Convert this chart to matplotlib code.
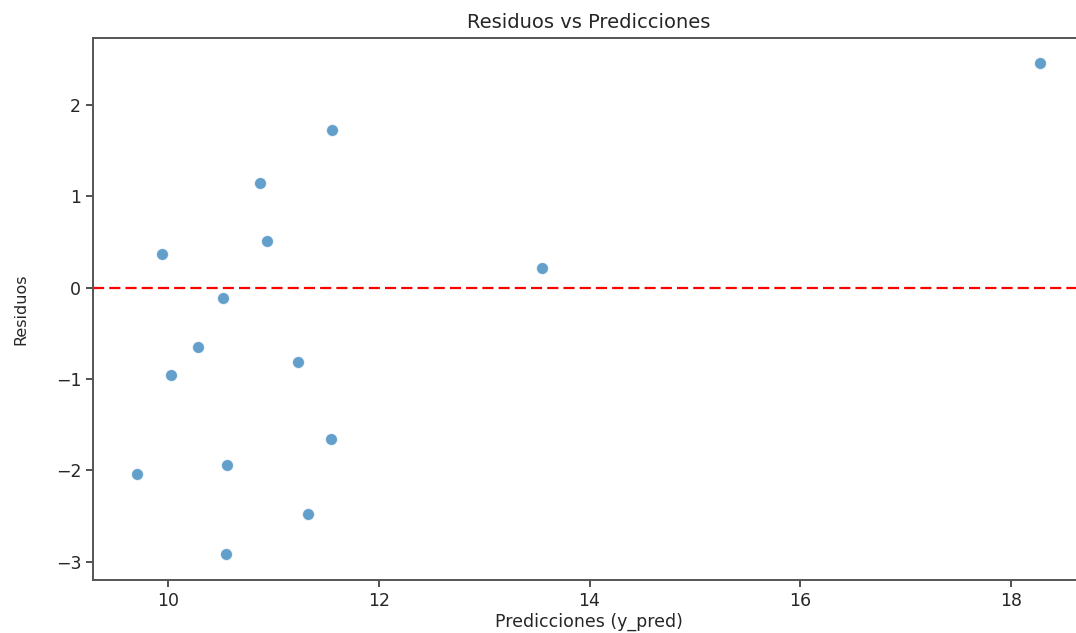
import matplotlib
matplotlib.use("Agg")
import matplotlib.pyplot as plt
import numpy as np

# predicciones y residuos
y_pred = [18.27, 11.56, 10.87, 10.94, 9.94, 13.55, 10.52, 10.29, 11.23,
          10.03, 11.55, 10.56, 9.71, 11.33, 10.55]
residuos = [2.46, 1.72, 1.14, 0.51, 0.37, 0.21, -0.12, -0.65, -0.81,
            -0.96, -1.66, -1.94, -2.04, -2.48, -2.92]

fig = plt.figure(figsize=(10.76, 6.33), dpi=100)
# el eje derecho queda fuera de la imagen (recorte del original)
ax = fig.add_axes([93 / 1076, 53 / 633, (1085 - 93) / 1076, (580 - 38) / 633])

ax.scatter(y_pred, residuos, s=75, color="#1f77b4", alpha=0.7,
           edgecolors="white", linewidths=0.8, zorder=3)
ax.axhline(0, color="red", linestyle=(0, (5, 2.3)), linewidth=1.6, zorder=2)

ax.set_xlim(9.29, 18.70)
ax.set_ylim(-3.2, 2.73)
ax.set_xticks([10, 12, 14, 16, 18])
ax.set_yticks([-3, -2, -1, 0, 1, 2])

txt = "#262626"
ax.set_title("Residuos vs Predicciones", fontsize=14, pad=7, color=txt)
ax.set_xlabel("Predicciones (y_pred)", fontsize=12.5, labelpad=2, color=txt)
ax.set_ylabel("Residuos", fontsize=11.5, labelpad=20, color=txt)

ax.tick_params(labelsize=12.5, width=1.2, length=5, color="#333333",
               labelcolor=txt)
for sp in ax.spines.values():
    sp.set_linewidth(1.4)
    sp.set_color("#555555")

fig.savefig("out.png", dpi=100)
